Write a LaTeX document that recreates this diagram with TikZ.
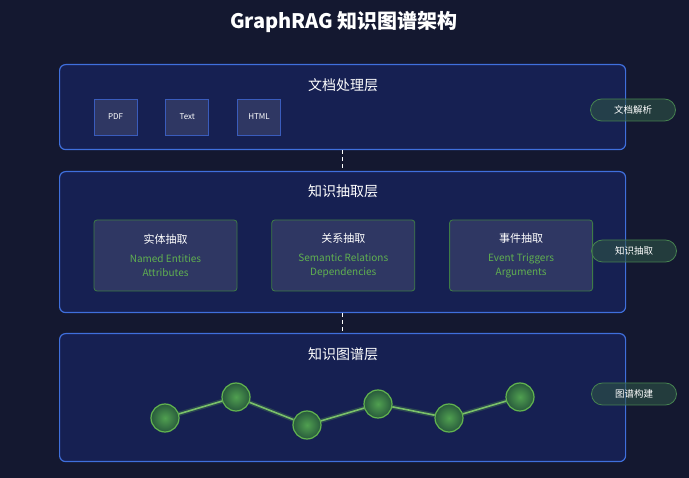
\documentclass[tikz,border=0pt]{standalone}
\usepackage{fontspec}
\setmainfont{Noto Sans CJK SC}
\usepackage{xcolor}
\usetikzlibrary{positioning}

\definecolor{bgnavy}{RGB}{20,24,48}
\definecolor{layerfill}{RGB}{22,32,82}
\definecolor{layerline}{RGB}{63,111,220}
\definecolor{itemfill}{RGB}{47,55,99}
\definecolor{itemline}{RGB}{58,92,188}
\definecolor{subline}{RGB}{62,124,70}
\definecolor{greentext}{RGB}{96,176,80}
\definecolor{pillfill}{RGB}{46,84,70}
\definecolor{pillline}{RGB}{70,130,80}
\definecolor{nodein}{RGB}{80,160,80}
\definecolor{nodeout}{RGB}{40,90,60}
\definecolor{nodeline}{RGB}{98,181,79}

\begin{document}
\begin{tikzpicture}[
  x=1pt, y=1pt,
  font=\fontsize{9}{11}\selectfont,
  node distance=28pt,
  layer/.style={draw=layerline, line width=1.2pt, fill=layerfill,
    rounded corners=6pt, inner sep=0pt, minimum width=566pt, anchor=north west},
  layertitle/.style={text=white, font=\fontsize{14}{16}\selectfont},
  item/.style={draw=itemline, fill=itemfill, line width=0.8pt, inner sep=0pt,
    minimum width=43pt, minimum height=36pt, text=white,
    font=\fontsize{8}{9}\selectfont},
  subbox/.style={draw=subline, fill=itemfill, line width=0.8pt, rounded corners=3pt,
    inner sep=0pt, minimum width=143pt, minimum height=71pt, align=center,
    text=greentext, font=\fontsize{10}{14}\selectfont},
  pill/.style={draw=pillline, fill=pillfill, fill opacity=0.6, text opacity=1,
    line width=0.8pt, rounded corners=11pt, minimum width=85pt,
    minimum height=22pt, inner sep=0pt, text=white,
    font=\fontsize{9.5}{11}\selectfont},
  gnode/.style={circle, draw=nodeline, line width=1.2pt, minimum size=28pt,
    inner sep=0pt, shading=radial, inner color=nodein, outer color=nodeout},
  link/.style={draw=white, line width=0.9pt, dash pattern=on 4pt off 3pt},
  edge/.style={draw=nodeline!85!white, line width=1.6pt},
  glow/.style={draw=nodeline, line width=4.5pt, opacity=0.25},
]
  % page and background
  \useasboundingbox[fill=bgnavy] (0,0) rectangle (689,-478);

  \node[text=white, font=\bfseries\fontsize{20}{22}\selectfont] (title)
    at (344,-22) {GraphRAG 知识图谱架构};

  % Layers
  \node[layer, minimum height=85pt] (doc) at (59,-64) {};
  \node[layer, minimum height=141pt] (ext) at (59,-171) {};
  \node[layer, minimum height=128pt] (kg) at (59,-333) {};

  \draw[link] (doc.south) -- (ext.north);
  \draw[link] (ext.south) -- (kg.north);

  \node[layertitle] (doctitle) at (343,-85) {文档处理层};
  \node[layertitle] (exttitle) at (343,-191) {知识抽取层};
  \node[layertitle] (kgtitle)  at (343,-354) {知识图谱层};

  % Document layer
  \node[item] (pdf) at (115.5,-117) {PDF};
  \node[item, right=28pt of pdf] (txt) {Text};
  \node[item, right=28pt of txt] (html) {HTML};

  % Extraction layer
  \node[subbox] (ent) at (165.5,-255.5)
    {{\color{white}\fontsize{11}{13}\selectfont 实体抽取}\\[5pt]
     Named Entities\\Attributes};
  \node[subbox, right=34pt of ent] (rel)
    {{\color{white}\fontsize{11}{13}\selectfont 关系抽取}\\[5pt]
     Semantic Relations\\Dependencies};
  \node[subbox, right=34pt of rel] (evt)
    {{\color{white}\fontsize{11}{13}\selectfont 事件抽取}\\[5pt]
     Event Triggers\\Arguments};

  % Graph layer
  \node[gnode] (g1) at (165,-418) {};
  \node[gnode] (g2) at (236,-397) {};
  \node[gnode] (g3) at (307,-425) {};
  \node[gnode] (g4) at (378,-404) {};
  \node[gnode] (g5) at (449,-418) {};
  \node[gnode] (g6) at (520,-397) {};
  \foreach \a/\b in {g1/g2, g2/g3, g3/g4, g4/g5, g5/g6} {
    \draw[glow] (\a) -- (\b);
    \draw[edge] (\a) -- (\b);
  }

  % Side tags
  \node[pill] (tagdoc) at (633,-110) {文档解析};
  \node[pill] (tagext) at (634,-251) {知识抽取};
  \node[pill] (tagkg)  at (634,-394) {图谱构建};
\end{tikzpicture}
\end{document}
